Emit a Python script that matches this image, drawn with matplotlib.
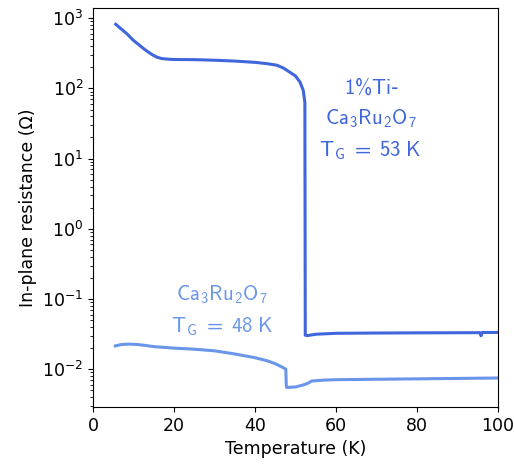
import numpy as np
import matplotlib
matplotlib.use("Agg")
import matplotlib.pyplot as plt

# computer modern sans for the annotations only
plt.rcParams['mathtext.rm'] = 'cmss10'
plt.rcParams['mathtext.it'] = 'cmss10'
plt.rcParams['mathtext.bf'] = 'cmss10'
plt.rcParams['mathtext.sf'] = 'cmss10'

# 1% Ti-doped Ca3Ru2O7
T_ti = [5.6, 7, 8.5, 9.9, 11.5, 13, 14.5, 15.8, 17, 18.5, 20, 25, 30, 35, 40, 43, 45.4, 47, 48.6, 50, 51.1,
        51.9, 52.3, 52.4, 53, 55, 58.5, 60, 70, 80, 90, 95.5, 95.8, 96.1, 100]
R_ti = [820, 700, 590, 487, 410, 350, 305, 278, 266, 261, 258, 257, 252, 245, 235, 225, 214, 195, 170, 150, 123,
        94, 63, 0.0305, 0.0302, 0.0315, 0.0322, 0.0325, 0.0328, 0.0330, 0.0331, 0.0332, 0.030, 0.0334, 0.0334]

# undoped Ca3Ru2O7
T_un = [5.5, 7, 9, 11, 13, 15, 20, 25, 30, 35, 40, 43, 45, 47, 47.6, 47.7, 47.8, 50, 52, 53, 54, 57, 60,
        70, 80, 90, 100]
R_un = [0.0215, 0.0225, 0.0228, 0.0225, 0.0218, 0.0210, 0.0200, 0.0193, 0.0183, 0.0165, 0.0146, 0.0132, 0.0120,
        0.0105, 0.0100, 0.0060, 0.0055, 0.0056, 0.0060, 0.0063, 0.0068, 0.0070, 0.0071,
        0.0072, 0.0073, 0.0074, 0.0075]

c_ti = '#3f66dd'
c_un = '#6a96ea'

fig = plt.figure(figsize=(5.14, 4.67), dpi=100)
ax = fig.add_axes([0.181, 0.1285, 0.788, 0.8545])

ax.semilogy(T_ti, R_ti, color=c_ti, lw=2.2)
ax.semilogy(T_un, R_un, color=c_un, lw=2.2)

ax.set_xlim(0, 100)
ax.set_ylim(2.9e-3, 1.4e3)
ax.set_xticks([0, 20, 40, 60, 80, 100])
ax.tick_params(labelsize=12.5)
ax.set_xlabel('Temperature (K)', fontsize=12.5)
ax.set_ylabel('In-plane resistance (\u03a9)', fontsize=12.5)

fs = 15
kw = dict(fontsize=fs, ha='center', va='center', math_fontfamily='custom')
ax.text(68.7, 104, r'$\mathrm{1\%Ti}$-', color=c_ti, **kw)
ax.text(68.5, 37.6, r'$\mathrm{Ca_3Ru_2O_7}$', color=c_ti, **kw)
ax.text(68.3, 13.2, r'$\mathrm{T_G\ =\ 53\ K}$', color=c_ti, **kw)

ax.text(31.9, 0.117, r'$\mathrm{Ca_3Ru_2O_7}$', color=c_un, **kw)
ax.text(31.9, 0.041, r'$\mathrm{T_G\ =\ 48\ K}$', color=c_un, **kw)

fig.savefig('out.png', dpi=100)
